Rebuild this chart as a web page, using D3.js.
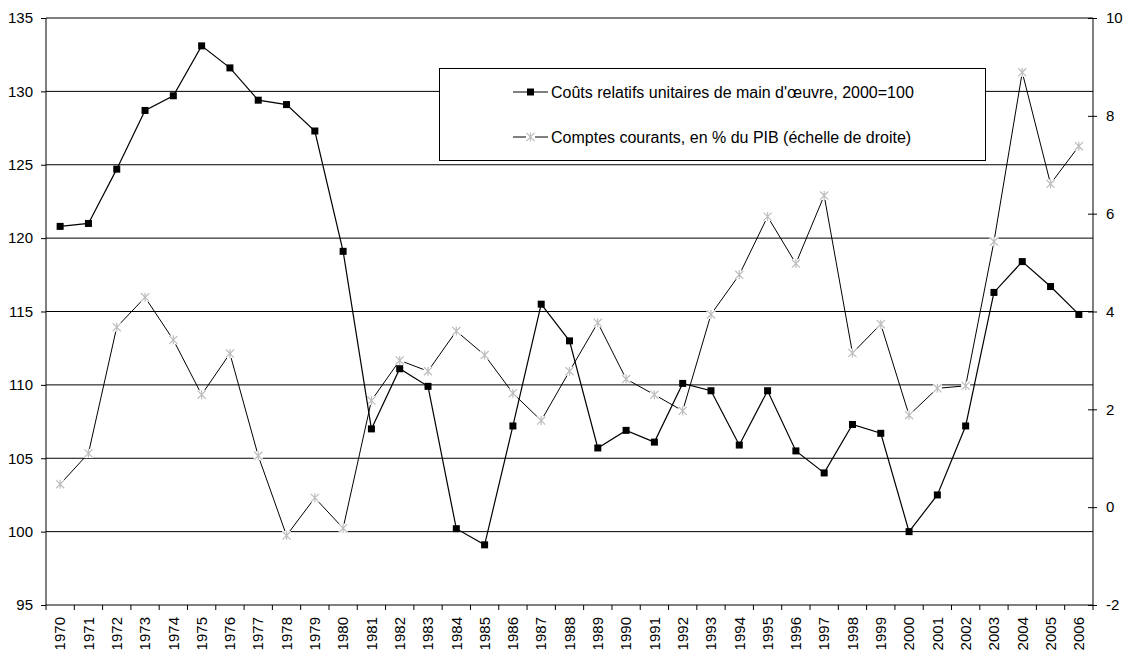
<!DOCTYPE html>
<html>
<head>
<meta charset="utf-8">
<script src="https://cdn.jsdelivr.net/npm/d3@7"></script>
<style>
  html, body { margin: 0; padding: 0; background: #fff; }
  svg { display: block; font-family: "Liberation Sans", Arial, sans-serif; }
</style>
</head>
<body>
<svg id="chart" width="1128" height="652"></svg>
<script>
const years = d3.range(1970, 2007).map(String);
const labourCosts = [120.8, 121.0, 124.7, 128.7, 129.7, 133.1, 131.6, 129.4, 129.1, 127.3,
  119.1, 107.0, 111.1, 109.9, 100.2, 99.1, 107.2, 115.5, 113.0, 105.7,
  106.9, 106.1, 110.1, 109.6, 105.9, 109.6, 105.5, 104.0, 107.3, 106.7,
  100.0, 102.5, 107.2, 116.3, 118.4, 116.7, 114.8];
const currentAccount = [0.47, 1.10, 3.68, 4.29, 3.42, 2.30, 3.14, 1.05, -0.58, 0.19,
  -0.43, 2.18, 3.00, 2.78, 3.60, 3.11, 2.33, 1.77, 2.78, 3.77,
  2.62, 2.30, 1.97, 3.94, 4.75, 5.94, 4.98, 6.37, 3.15, 3.74,
  1.88, 2.43, 2.48, 5.43, 8.89, 6.61, 7.38];
const leftTicks = [95, 100, 105, 110, 115, 120, 125, 130, 135];
const rightTicks = [-2, 0, 2, 4, 6, 8, 10];
const legendLabels = ["Coûts relatifs unitaires de main d'œuvre, 2000=100",
  "Comptes courants, en % du PIB (échelle de droite)"];

const svg = d3.select("#chart");
const L = 46, R = 1093, T = 18, B = 605;
const FONT = "Liberation Sans, Arial, sans-serif";

const x = d3.scaleBand().domain(years).range([L, R]);
const yL = d3.scaleLinear().domain([95, 135]).range([B, T]);
const yR = d3.scaleLinear().domain([-2, 10]).range([B, T]);
const cx = d => x(d) + x.bandwidth() / 2;

// gridlines
svg.append("g").selectAll("line").data(leftTicks.slice(1)).join("line")
  .attr("x1", L).attr("x2", R)
  .attr("y1", d => yL(d)).attr("y2", d => yL(d))
  .attr("stroke", "#000").attr("stroke-width", 1);

// left axis
const gL = svg.append("g").attr("transform", `translate(${L},0)`)
  .call(d3.axisLeft(yL).tickValues(leftTicks).tickSize(5).tickPadding(8).tickFormat(d => String(d)));
gL.select(".domain").attr("stroke", "#000").attr("d", `M0,${T}V${B}`);
gL.selectAll("text").attr("font-size", 15).attr("fill", "#000").attr("font-family", FONT);

// right axis
const gR = svg.append("g").attr("transform", `translate(${R},0)`)
  .call(d3.axisRight(yR).tickValues(rightTicks).tickSize(0).tickPadding(13).tickFormat(d => String(d)));
gR.select(".domain").attr("stroke", "#000").attr("d", `M0,${T}V${B}`);
gR.selectAll(".tick").append("line").attr("x1", -5).attr("x2", 4).attr("stroke", "#000");
gR.selectAll("text").attr("font-size", 15).attr("fill", "#000").attr("font-family", FONT);

// bottom axis
const gB = svg.append("g").attr("transform", `translate(0,${B})`)
  .call(d3.axisBottom(x).tickSize(0).tickPadding(0));
gB.select(".domain").attr("stroke", "#000").attr("d", `M${L},0H${R}`);
const bounds = years.map(d => x(d)).concat([R]);
gB.append("g").selectAll("line").data(bounds).join("line")
  .attr("x1", d => d).attr("x2", d => d).attr("y1", 0).attr("y2", 5).attr("stroke", "#000");
gB.selectAll(".tick text")
  .attr("font-size", 15).attr("fill", "#000").attr("font-family", FONT)
  .attr("text-anchor", "end").attr("dy", "0.35em")
  .attr("transform", "translate(0,12) rotate(-90)").attr("x", 0).attr("y", 0);

// current account line (gray stars)
const lineR = d3.line().x((d, i) => cx(years[i])).y(d => yR(d));
svg.append("path").datum(currentAccount).attr("d", lineR)
  .attr("fill", "none").attr("stroke", "#000").attr("stroke-width", 1);

function star(g, px, py, s) {
  g.append("rect").attr("x", px - s).attr("y", py - s).attr("width", 2 * s).attr("height", 2 * s).attr("fill", "#fff");
  const a = s * 0.9;
  g.append("path")
    .attr("d", `M${px - a},${py - a}L${px + a},${py + a}M${px - a},${py + a}L${px + a},${py - a}M${px},${py - s}L${px},${py + s}`)
    .attr("stroke", "#bdbdbd").attr("stroke-width", 1.2).attr("fill", "none");
}
const starsG = svg.append("g");
currentAccount.forEach((v, i) => star(starsG, cx(years[i]), yR(v), 4.5));

// labour costs line (black squares)
const lineL = d3.line().x((d, i) => cx(years[i])).y(d => yL(d));
svg.append("path").datum(labourCosts).attr("d", lineL)
  .attr("fill", "none").attr("stroke", "#000").attr("stroke-width", 1.2);
svg.append("g").selectAll("rect").data(labourCosts).join("rect")
  .attr("x", (d, i) => cx(years[i]) - 3.5).attr("y", d => yL(d) - 3.5)
  .attr("width", 7).attr("height", 7).attr("fill", "#000");

// legend
const lg = svg.append("g");
lg.append("rect").attr("x", 439.5).attr("y", 68.5).attr("width", 546).attr("height", 92)
  .attr("fill", "#fff").attr("stroke", "#000").attr("stroke-width", 1);
const ly = [92, 137];
lg.append("line").attr("x1", 513).attr("x2", 548).attr("y1", ly[0]).attr("y2", ly[0]).attr("stroke", "#000");
lg.append("rect").attr("x", 527).attr("y", ly[0] - 3.5).attr("width", 7).attr("height", 7).attr("fill", "#000");
lg.append("line").attr("x1", 513).attr("x2", 548).attr("y1", ly[1]).attr("y2", ly[1]).attr("stroke", "#000");
star(lg, 530.5, ly[1], 4.5);
lg.selectAll("text").data(legendLabels).join("text")
  .attr("x", 551).attr("y", (d, i) => ly[i]).attr("dy", "0.35em")
  .attr("font-size", 16).attr("fill", "#000").attr("font-family", FONT).text(d => d);
</script>
</body>
</html>
